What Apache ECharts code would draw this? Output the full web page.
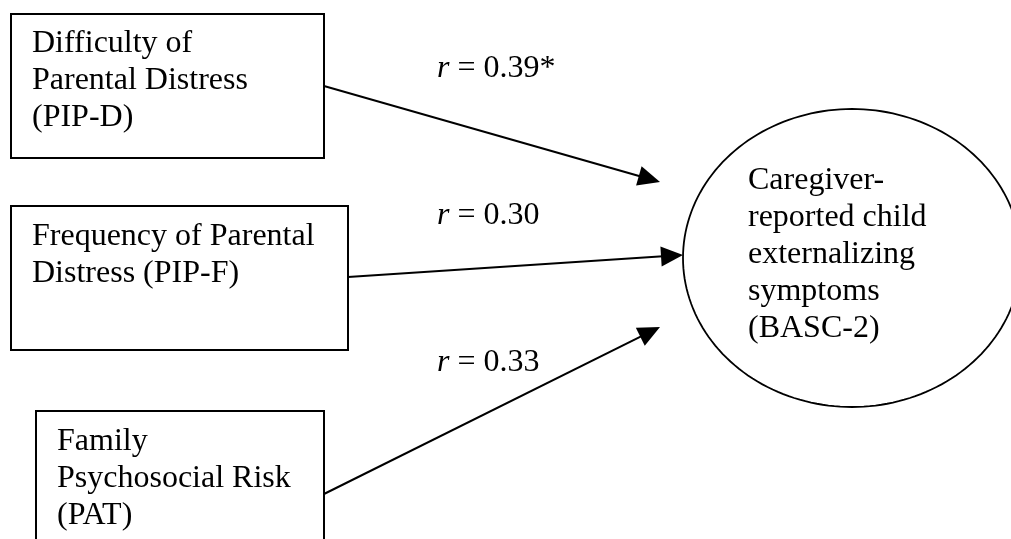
<!DOCTYPE html>
<html>
<head>
<meta charset="utf-8">
<script src="https://cdn.jsdelivr.net/npm/echarts@6/dist/echarts.min.js"></script>
<style>
html,body{margin:0;padding:0;background:#fff;}
#c{width:1011px;height:539px;}
</style>
</head>
<body>
<div id="c"></div>
<script>
// ---- data ----
const sourceLabels = [
  'Difficulty of\nParental Distress\n(PIP-D)',
  'Frequency of Parental\nDistress (PIP-F)',
  'Family\nPsychosocial Risk\n(PAT)'
];
const targetLabel = 'Caregiver-\nreported child\nexternalizing\nsymptoms\n(BASC-2)';
const rValues = ['0.39', '0.30', '0.33'];
const rMarks = ['*', '', ''];

// ---- layout (diagram space, mapped through hidden axes) ----
const boxLayout = [[11, 14, 324, 158], [11, 206, 348, 350], [36, 411, 324, 570]];
const boxTextAt = [[32, 53], [32, 246], [57, 451]];      // left, first baseline
const ellipseLayout = [852, 258, 169, 149];               // cx, cy, rx, ry
const ellipseTextAt = [748, 190];
const arrowFrom = [[324, 86], [348, 277], [324, 494]];
const arrowTo = [[660, 182], [683, 255], [660, 327]];
const rLabelAt = [[437, 78], [437, 225], [437, 372]];

const FONT = '"Liberation Serif", "Times New Roman", serif';
const FS = 32, LH = 37;
const BASE_OFF = 28.3; // baseline offset from line-box top

function textEl(api, x, y, str, extra) {
  const p = api.coord([x, y]);
  return {
    type: 'text',
    style: Object.assign({
      text: str, x: p[0], y: p[1] - BASE_OFF,
      fontFamily: FONT, fontSize: FS, lineHeight: LH,
      fill: '#000', align: 'left', verticalAlign: 'top'
    }, extra || {})
  };
}

const chart = echarts.init(document.getElementById('c'), null, {renderer: 'canvas'});
chart.setOption({
  backgroundColor: '#fff',
  animation: false,
  grid: {left: 0, right: 0, top: 0, bottom: 0},
  xAxis: {type: 'value', min: 0, max: 1011, show: false},
  yAxis: {type: 'value', min: 0, max: 539, inverse: true, show: false},
  series: [
    {
      type: 'custom', clip: false,
      data: sourceLabels.map((s, i) => [i]),
      renderItem: function (params, api) {
        const i = api.value(0);
        const b = boxLayout[i];
        const p0 = api.coord([b[0], b[1]]), p1 = api.coord([b[2], b[3]]);
        return {
          type: 'group',
          children: [
            {type: 'rect', shape: {x: p0[0], y: p0[1], width: p1[0] - p0[0], height: p1[1] - p0[1]},
             style: {fill: '#fff', stroke: '#000', lineWidth: 2}},
            textEl(api, boxTextAt[i][0], boxTextAt[i][1], sourceLabels[i])
          ]
        };
      }
    },
    {
      type: 'custom', clip: false,
      data: [[0]],
      renderItem: function (params, api) {
        const e = ellipseLayout;
        const pts = [];
        for (let k = 0; k < 180; k++) {
          const a = k / 180 * Math.PI * 2;
          pts.push(api.coord([e[0] + e[2] * Math.cos(a), e[1] + e[3] * Math.sin(a)]));
        }
        return {
          type: 'group',
          children: [
            {type: 'polygon', shape: {points: pts}, style: {fill: '#fff', stroke: '#000', lineWidth: 1.8}},
            textEl(api, ellipseTextAt[0], ellipseTextAt[1], targetLabel)
          ]
        };
      }
    },
    {
      type: 'custom', clip: false,
      data: rValues.map((v, i) => [i]),
      renderItem: function (params, api) {
        const i = api.value(0);
        const a = api.coord(arrowFrom[i]), b = api.coord(arrowTo[i]);
        const dx = b[0] - a[0], dy = b[1] - a[1];
        const len = Math.sqrt(dx * dx + dy * dy);
        const ux = dx / len, uy = dy / len;
        const hl = 22, hw = 10;
        const bx = b[0] - ux * hl, by = b[1] - uy * hl;
        return {
          type: 'group',
          children: [
            {type: 'line', shape: {x1: a[0], y1: a[1], x2: bx + ux * 2, y2: by + uy * 2},
             style: {stroke: '#000', lineWidth: 2}},
            {type: 'polygon', shape: {points: [[b[0], b[1]], [bx - uy * hw, by + ux * hw], [bx + uy * hw, by - ux * hw]]},
             style: {fill: '#000'}}
          ]
        };
      }
    },
    {
      type: 'custom', clip: false,
      data: rValues.map((v, i) => [i]),
      renderItem: function (params, api) {
        const i = api.value(0);
        const p = api.coord(rLabelAt[i]);
        return {
          type: 'text',
          style: {
            text: '{i|r} = ' + rValues[i] + rMarks[i],
            x: p[0], y: p[1] - BASE_OFF,
            fontFamily: FONT, fontSize: FS, lineHeight: LH, fill: '#000',
            align: 'left', verticalAlign: 'top',
            rich: {i: {fontStyle: 'italic', fontFamily: FONT, fontSize: FS, lineHeight: LH}}
          }
        };
      }
    }
  ]
});
</script>
</body>
</html>
